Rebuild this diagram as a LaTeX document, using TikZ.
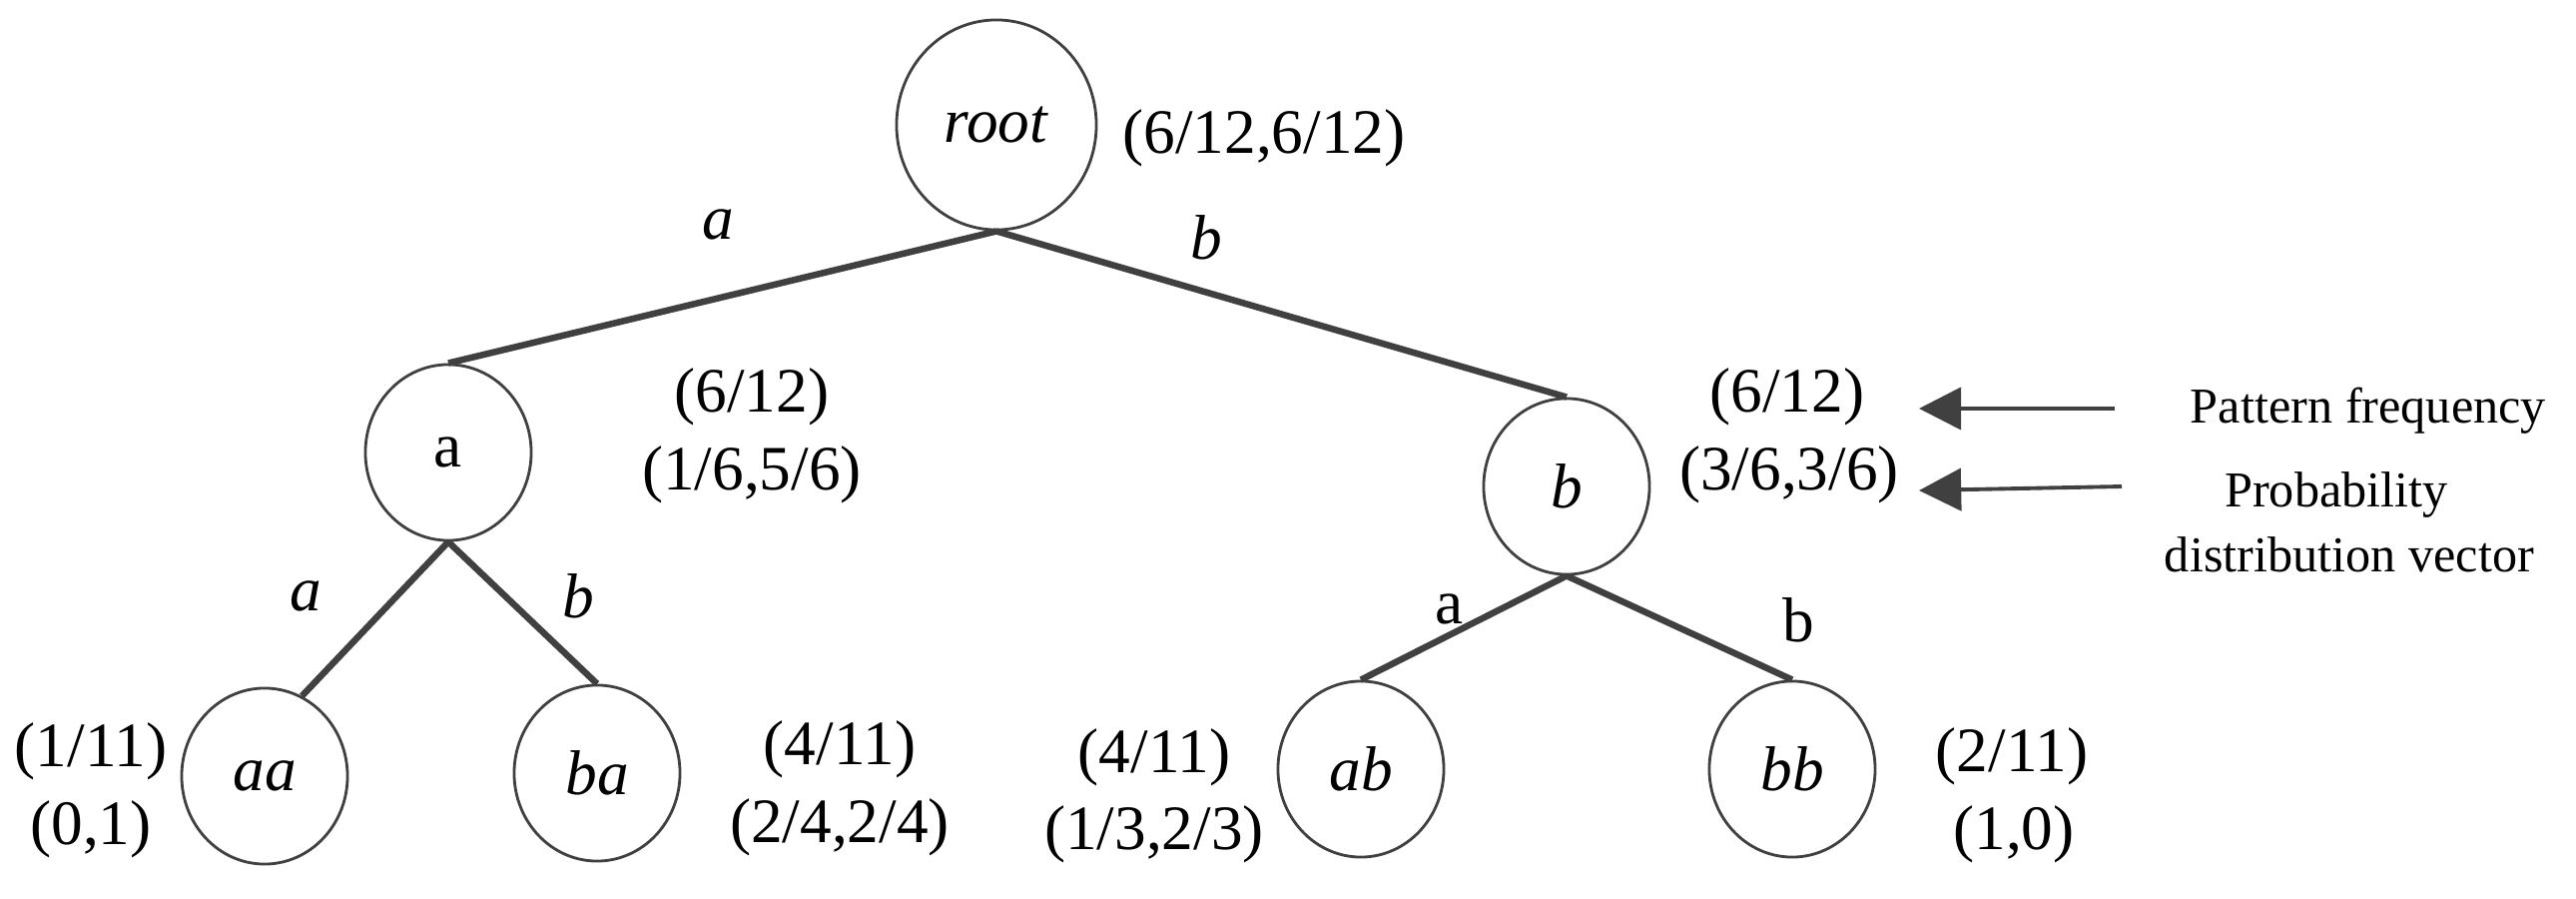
\documentclass[tikz,border=0pt]{standalone}
\usepackage{fontspec}
\setmainfont{Liberation Serif}
\usetikzlibrary{arrows.meta,shapes.geometric}
\definecolor{linegray}{HTML}{404040}
\begin{document}
\begin{tikzpicture}[x=0.01cm,y=-0.01cm,
  tnode/.style={ellipse, draw=linegray, line width=0.8pt, inner sep=0pt,
    minimum width=1.66cm, minimum height=1.76cm, font=\fontsize{18}{21}\selectfont},
  edge/.style={draw=linegray, line width=1.85pt},
  lbl/.style={inner sep=0pt, anchor=base, font=\fontsize{18}{21}\selectfont},
  elbl/.style={inner sep=0pt, anchor=center, font=\fontsize{18}{21}\selectfont},
  legend/.style={inner sep=0pt, anchor=base, font=\fontsize{14.3}{17}\selectfont},
  legarrow/.style={draw=linegray, line width=1.1pt, -{Triangle[length=12pt,width=12pt]}}
]
\useasboundingbox (0,0) rectangle (2580,900);

% tree nodes
\node[tnode, minimum width=2cm, minimum height=2.1cm] (root) at (998,125) {\textit{root}};
\node[tnode] (a) at (449,453) {a};
\node[tnode] (b) at (1569,487) {\textit{b}};
\node[tnode] (aa) at (265,777) {\textit{aa}};
\node[tnode] (ba) at (598,774) {\textit{ba}};
\node[tnode] (ab) at (1363,770) {\textit{ab}};
\node[tnode] (bb) at (1795,770) {\textit{bb}};

% edges
\draw[edge] (root.south) -- (a.north);
\draw[edge] (root.south) -- (b.north);
\draw[edge] (a.south) -- (aa.65);
\draw[edge] (a.south) -- (ba.north);
\draw[edge] (b.south) -- (ab.north);
\draw[edge] (b.south) -- (bb.north);

% edge labels
\node[elbl] (ela) at (719,225) {\textit{a}};
\node[elbl] (elb) at (1208,238) {\textit{b}};
\node[elbl] (elaa) at (306,597) {\textit{a}};
\node[elbl] (elba) at (579,597) {\textit{b}};
\node[elbl] (elab) at (1452,610) {a};
\node[elbl] (elbb) at (1801,621) {b};

% node labels
\node[lbl] (lroot) at (1266,153) {(6/12,6/12)};
\node[lbl] (lafreq) at (753,412) {(6/12)};
\node[lbl] (laprob) at (753,490) {(1/6,5/6)};
\node[lbl] (lbfreq) at (1790,412) {(6/12)};
\node[lbl] (lbprob) at (1792,490) {(3/6,3/6)};
\node[lbl] (laafreq) at (91,767) {(1/11)};
\node[lbl] (laaprob) at (91,845) {(0,1)};
\node[lbl] (lbafreq) at (841,765) {(4/11)};
\node[lbl] (lbaprob) at (841,843) {(2/4,2/4)};
\node[lbl] (labfreq) at (1156,773) {(4/11)};
\node[lbl] (labprob) at (1156,850) {(1/3,2/3)};
\node[lbl] (lbbfreq) at (2015,772) {(2/11)};
\node[lbl] (lbbprob) at (2017,850) {(1,0)};

% legend
\node[legend] (pf) at (2372,423) {Pattern frequency};
\node[legend] (pd1) at (2340,507) {Probability};
\node[legend] (pd2) at (2353,572) {distribution vector};
\coordinate (pfs) at (2118,409);
\coordinate (pft) at (1922,409);
\coordinate (pds) at (2125,487);
\coordinate (pdt) at (1922,491);
\draw[legarrow] (pfs) -- (pft);
\draw[legarrow] (pds) -- (pdt);
\end{tikzpicture}
\end{document}
